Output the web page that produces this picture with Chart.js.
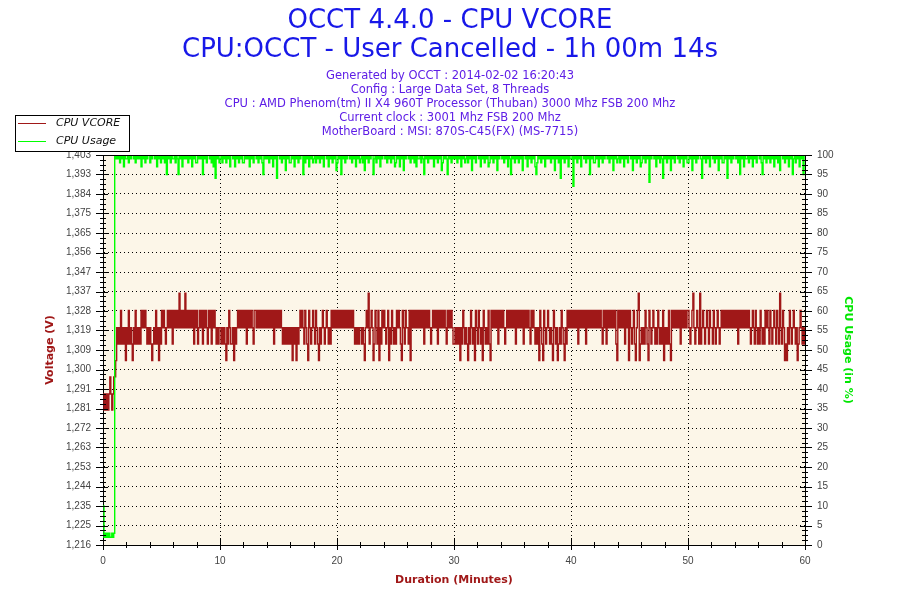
<!DOCTYPE html>
<html>
<head>
<meta charset="utf-8">
<title>OCCT 4.4.0 - CPU VCORE</title>
<script src="https://cdn.jsdelivr.net/npm/chart.js@4"></script>
<style>
  html, body { margin: 0; padding: 0; background: #fff; }
</style>
</head>
<body>
<canvas id="chart" width="900" height="600"></canvas>
<script>
// one sample every 5 seconds, one string per minute of the run
const sampleStep = 1 / 12;

// voltage levels seen in the log, indexed by the digits of vcoreTrace
const voltLevels = [1.2807, 1.2884, 1.2966, 1.3044, 1.3124, 1.3202, 1.3285, 1.3367];

// cpu load per code in cpuTrace
const cpuLevels = { '0': 100, '1': 99, '2': 98, '3': 97, '4': 96, '5': 95, '6': 94, '7': 93, '8': 92, 'a': 2, 'b': 3, 'c': 10 };

const vcoreTrace = [
  "101010121012", "235454645453", "546454354645", "454656565454", "543454645354",
  "656545656564", "656565756565", "756565656465", "645656465654", "656465654545",
  "545454354654", "453545656565", "656465656546", "656565656565", "656565646565",
  "656545454545", "453545354565", "654654365456", "546543545654", "565454656565",
  "656565656565", "656565454545", "545435657456", "534654635465", "654563546545",
  "465654365465", "546365656565", "656564656565", "456565646565", "656546565654",
  "454545354654", "543546545365", "465453654546", "436565656465", "656545656565",
  "656465656564", "656565465654", "545365436545", "654543654534", "546543546565",
  "656565646565", "656465656565", "656565654656", "465656565643", "656565646563",
  "654564356734", "545465436545", "654546545463", "545464365656", "565646565656",
  "654567545654", "745654565465", "546545654565", "656565656565", "656465656565",
  "656545654654", "546545465654", "654565465475", "465343546545", "654534565454",
  "545"
];

const cpuTrace = [
  "cabababaabab", "010102010301", "102010010201", "010301020100", "201001030102",
  "010205010201", "102015010301", "010201030102", "201010501020", "010203060102",
  "102010201030", "010301020102", "201010301020", "010201025010", "102010301060",
  "010201040102", "201030102010", "050201030102", "102010201030", "010301020104",
  "201050102010", "010201030102", "102040102010", "051020103010", "010201020103",
  "201030104010", "010201020301", "102015010201", "010301020104", "201015010201",
  "010201030102", "102010401020", "010301020103", "201020104010", "010201030150",
  "102010201040", "010301020103", "520102010301", "010201040102", "060102010301",
  "108010201030", "010201050102", "201030102010", "010201040102", "102010301020",
  "010401020103", "201020107010", "010301020160", "102010401020", "010201030102",
  "201040102010", "016010201030", "010201040102", "201060102010", "010205010301",
  "102010301020", "010250102010", "201030102040", "010201030105", "102010301050",
  "010"
];

const voltTickLabels = ['1,216', '1,225', '1,235', '1,244', '1,253', '1,263', '1,272', '1,281', '1,291', '1,300',
  '1,309', '1,319', '1,328', '1,337', '1,347', '1,356', '1,365', '1,375', '1,384', '1,393', '1,403'];
const cpuTicks = [0, 5, 10, 15, 20, 25, 30, 35, 40, 45, 50, 55, 60, 65, 70, 75, 80, 85, 90, 95, 100];
const minuteTicks = [0, 10, 20, 30, 40, 50, 60];

const titleLines = ['OCCT 4.4.0 - CPU VCORE', 'CPU:OCCT - User Cancelled - 1h 00m 14s'];
const infoLines = [
  'Generated by OCCT : 2014-02-02 16:20:43',
  'Config : Large Data Set, 8 Threads',
  'CPU : AMD Phenom(tm) II X4 960T Processor (Thuban) 3000 Mhz FSB 200 Mhz',
  'Current clock : 3001 Mhz FSB 200 Mhz',
  'MotherBoard : MSI: 870S-C45(FX) (MS-7715)'
];

const RED = '#a01818';
const GREEN = '#00ff00';

const toPoints = (rows, levels) =>
  rows.join('').split('').map((c, i) => ({ x: i * sampleStep, y: levels[c] }));

// cream plot area behind the grid
const plotBackground = {
  id: 'plotBackground',
  beforeDraw(chart) {
    const { ctx, chartArea: a } = chart;
    ctx.save();
    ctx.fillStyle = '#fcf6e8';
    ctx.fillRect(a.left, a.top, a.right - a.left, a.bottom - a.top);
    ctx.restore();
  }
};

// frame on top and the crossing major / short minor tick marks
const axisMarks = {
  id: 'axisMarks',
  afterDraw(chart) {
    const { ctx, chartArea: a, scales } = chart;
    const px = v => Math.round(v) + 0.5;
    ctx.save();
    ctx.strokeStyle = '#000';
    ctx.lineWidth = 1;
    ctx.beginPath();
    ctx.moveTo(a.left, px(a.top));
    ctx.lineTo(a.right, px(a.top));

    const vTicks = scales.yV.ticks;
    vTicks.forEach((t, i) => {
      const y = scales.yV.getPixelForValue(t.value);
      ctx.moveTo(a.left - 7, px(y)); ctx.lineTo(a.left + 5, px(y));
      ctx.moveTo(a.right - 5, px(y)); ctx.lineTo(a.right + 7, px(y));
      if (i < vTicks.length - 1) {
        const next = scales.yV.getPixelForValue(vTicks[i + 1].value);
        for (let k = 1; k < 4; k++) {
          const ym = px(y + (next - y) * k / 4);
          ctx.moveTo(a.left - 3, ym); ctx.lineTo(a.left + 3, ym);
          ctx.moveTo(a.right - 3, ym); ctx.lineTo(a.right + 3, ym);
        }
      }
    });

    for (let m = 0; m <= 60; m += 2) {
      const x = px(scales.x.getPixelForValue(m));
      const major = m % 10 === 0;
      ctx.moveTo(x, a.bottom - (major ? 7 : 3));
      ctx.lineTo(x, a.bottom + (major ? 5 : 3));
    }
    ctx.stroke();
    ctx.restore();
  }
};

// boxed legend in the top left corner, like the OCCT graphs
const occtLegend = {
  id: 'occtLegend',
  afterDraw(chart) {
    const ctx = chart.ctx;
    ctx.save();
    ctx.fillStyle = '#fff';
    ctx.fillRect(15.5, 115.5, 114, 36);
    ctx.strokeStyle = '#000';
    ctx.lineWidth = 1;
    ctx.strokeRect(15.5, 115.5, 114, 36);
    chart.data.datasets.forEach((ds, i) => {
      const y = 123.5 + i * 18;
      ctx.strokeStyle = ds.borderColor;
      ctx.beginPath();
      ctx.moveTo(18, y);
      ctx.lineTo(46, y);
      ctx.stroke();
      ctx.fillStyle = '#111';
      ctx.font = 'italic 11px "DejaVu Sans"';
      ctx.textBaseline = 'middle';
      ctx.fillText(ds.label, 56, y);
    });
    ctx.restore();
  }
};

Chart.defaults.font.family = '"DejaVu Sans", sans-serif';

const tickFont = { family: '"Liberation Sans", Arial, sans-serif', size: 10 };
const axisTitleFont = { family: '"DejaVu Sans", sans-serif', size: 11, weight: 'bold' };

new Chart(document.getElementById('chart'), {
  type: 'line',
  data: {
    datasets: [
      {
        label: 'CPU VCORE',
        data: toPoints(vcoreTrace, voltLevels),
        yAxisID: 'yV',
        borderColor: RED,
        borderWidth: 1.4,
        pointRadius: 0,
        stepped: true,
        order: 1
      },
      {
        label: 'CPU Usage',
        data: toPoints(cpuTrace, cpuLevels),
        yAxisID: 'yC',
        borderColor: GREEN,
        borderWidth: 1.4,
        pointRadius: 0,
        stepped: true,
        order: 0
      }
    ]
  },
  options: {
    responsive: false,
    animation: false,
    events: [],
    layout: { padding: 0 },
    plugins: {
      legend: { display: false },
      tooltip: { enabled: false },
      title: {
        display: true,
        text: titleLines,
        color: '#1818e8',
        font: { family: '"DejaVu Sans", sans-serif', size: 26, weight: 'normal', lineHeight: '29px' },
        padding: { top: 6.5, bottom: 0 }
      },
      subtitle: {
        display: true,
        text: infoLines,
        color: '#5e1ee6',
        font: { family: '"DejaVu Sans", sans-serif', size: 11.5, lineHeight: '14px' },
        padding: { top: 4.5, bottom: 16 }
      }
    },
    scales: {
      x: {
        type: 'linear',
        position: 'bottom',
        min: 0,
        max: 60,
        afterBuildTicks: s => { s.ticks = minuteTicks.map(v => ({ value: v })); },
        afterFit: s => { s.height = 55; },
        ticks: { color: '#444', font: tickFont, padding: 10, autoSkip: false, maxRotation: 0 },
        grid: { color: '#000', lineWidth: 1, drawTicks: false },
        border: { color: '#000', width: 1, dash: [1, 3] },
        title: { display: true, text: 'Duration (Minutes)', color: RED, font: axisTitleFont, padding: { top: 0, bottom: 13 } }
      },
      yV: {
        type: 'linear',
        position: 'left',
        min: 1.216,
        max: 1.403,
        afterBuildTicks: s => {
          const n = voltTickLabels.length - 1;
          s.ticks = voltTickLabels.map((_, i) => ({ value: s.min + (s.max - s.min) * i / n }));
        },
        afterFit: s => { s.width = 103; },
        ticks: { color: '#444', font: tickFont, padding: 12, autoSkip: false, callback: (v, i) => voltTickLabels[i] },
        grid: { color: '#000', lineWidth: 1, drawTicks: false },
        border: { color: '#000', width: 1, dash: [1, 3] },
        title: { display: true, text: 'Voltage (V)', color: RED, font: axisTitleFont, padding: { top: 43.4, bottom: 0 } }
      },
      yC: {
        type: 'linear',
        position: 'right',
        min: 0,
        max: 100,
        afterBuildTicks: s => { s.ticks = cpuTicks.map(v => ({ value: v })); },
        afterFit: s => { s.width = 95; },
        ticks: { color: '#444', font: tickFont, padding: 12, autoSkip: false },
        grid: { drawOnChartArea: false, drawTicks: false },
        border: { color: '#000', width: 1 },
        title: { display: true, text: 'CPU Usage (in %)', color: '#00e600', font: axisTitleFont, padding: { top: 45.4, bottom: 0 } }
      }
    }
  },
  plugins: [plotBackground, axisMarks, occtLegend]
});
</script>
</body>
</html>
